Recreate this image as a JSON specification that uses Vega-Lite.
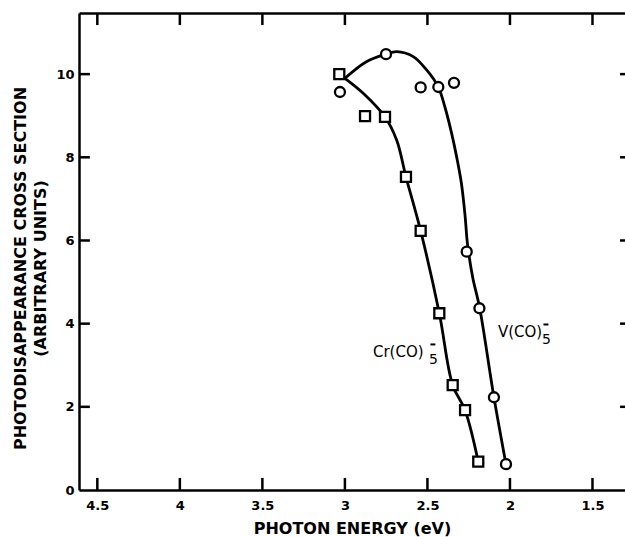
{
  "$schema": "https://vega.github.io/schema/vega-lite/v6.json",
  "autosize": "none",
  "width": 546,
  "height": 477,
  "padding": {"left": 79, "top": 13, "right": 0, "bottom": 47},
  "background": "white",
  "config": {
    "view": {"stroke": null},
    "axis": {
      "grid": false,
      "domainColor": "black",
      "domainWidth": 2.5,
      "tickColor": "black",
      "tickWidth": 2.5,
      "labelColor": "black",
      "titleColor": "black",
      "labelFont": "DejaVu Sans",
      "titleFont": "DejaVu Sans",
      "labelFontWeight": "bold",
      "titleFontWeight": "bold",
      "labelFontSize": 13,
      "titleFontSize": 16,
      "labelFlush": false,
      "labelOverlap": false,
      "labelBound": false
    }
  },
  "datasets": {
    "curves": [
      {"series": "V", "e": 3.0, "v": 9.9},
      {"series": "V", "e": 2.87, "v": 10.3},
      {"series": "V", "e": 2.751, "v": 10.48},
      {"series": "V", "e": 2.686, "v": 10.54},
      {"series": "V", "e": 2.586, "v": 10.42},
      {"series": "V", "e": 2.505, "v": 10.1},
      {"series": "V", "e": 2.434, "v": 9.69},
      {"series": "V", "e": 2.394, "v": 9.21},
      {"series": "V", "e": 2.353, "v": 8.57},
      {"series": "V", "e": 2.323, "v": 8.01},
      {"series": "V", "e": 2.294, "v": 7.37},
      {"series": "V", "e": 2.272, "v": 6.6},
      {"series": "V", "e": 2.257, "v": 5.9},
      {"series": "V", "e": 2.225, "v": 5.1},
      {"series": "V", "e": 2.184, "v": 4.39},
      {"series": "V", "e": 2.097, "v": 2.23},
      {"series": "V", "e": 2.024, "v": 0.62},
      {"series": "Cr", "e": 3.0, "v": 9.9},
      {"series": "Cr", "e": 2.889, "v": 9.54},
      {"series": "Cr", "e": 2.757, "v": 8.97},
      {"series": "Cr", "e": 2.686, "v": 8.41},
      {"series": "Cr", "e": 2.63, "v": 7.53},
      {"series": "Cr", "e": 2.541, "v": 6.23},
      {"series": "Cr", "e": 2.428, "v": 4.25},
      {"series": "Cr", "e": 2.347, "v": 2.52},
      {"series": "Cr", "e": 2.272, "v": 1.92},
      {"series": "Cr", "e": 2.192, "v": 0.68}
    ],
    "points": [
      {"series": "Cr", "e": 3.034, "v": 10.0},
      {"series": "Cr", "e": 2.878, "v": 8.99},
      {"series": "Cr", "e": 2.757, "v": 8.97},
      {"series": "Cr", "e": 2.63, "v": 7.53},
      {"series": "Cr", "e": 2.541, "v": 6.23},
      {"series": "Cr", "e": 2.428, "v": 4.25},
      {"series": "Cr", "e": 2.347, "v": 2.52},
      {"series": "Cr", "e": 2.272, "v": 1.92},
      {"series": "Cr", "e": 2.192, "v": 0.68},
      {"series": "V", "e": 3.03, "v": 9.57},
      {"series": "V", "e": 2.751, "v": 10.48},
      {"series": "V", "e": 2.541, "v": 9.68},
      {"series": "V", "e": 2.434, "v": 9.69},
      {"series": "V", "e": 2.339, "v": 9.79},
      {"series": "V", "e": 2.262, "v": 5.73},
      {"series": "V", "e": 2.185, "v": 4.37},
      {"series": "V", "e": 2.097, "v": 2.23},
      {"series": "V", "e": 2.024, "v": 0.62}
    ],
    "labels": [
      {"t": "Cr(CO)", "e": 2.83, "v": 3.32, "size": 15},
      {"t": "5", "e": 2.49, "v": 3.12, "size": 14},
      {"t": "V(CO)", "e": 2.073, "v": 3.8, "size": 15},
      {"t": "5", "e": 1.806, "v": 3.6, "size": 14}
    ],
    "bars": [
      {"e": 2.482, "e2": 2.452, "v": 3.5},
      {"e": 1.797, "e2": 1.767, "v": 3.98}
    ],
    "xt": [
      {"e": 4.5, "a": 0, "b": 0.29}, {"e": 4, "a": 0, "b": 0.29}, {"e": 3.5, "a": 0, "b": 0.29}, {"e": 3, "a": 0, "b": 0.29}, {"e": 2.5, "a": 0, "b": 0.29}, {"e": 2, "a": 0, "b": 0.29}, {"e": 1.5, "a": 0, "b": 0.29},
      {"e": 4.5, "a": 11.47, "b": 11.18}, {"e": 4, "a": 11.47, "b": 11.18}, {"e": 3.5, "a": 11.47, "b": 11.18}, {"e": 3, "a": 11.47, "b": 11.18}, {"e": 2.5, "a": 11.47, "b": 11.18}, {"e": 2, "a": 11.47, "b": 11.18}, {"e": 1.5, "a": 11.47, "b": 11.18}
    ],
    "yt": [
      {"v": 2, "a": 4.611, "b": 4.545}, {"v": 4, "a": 4.611, "b": 4.545}, {"v": 6, "a": 4.611, "b": 4.545}, {"v": 8, "a": 4.611, "b": 4.545}, {"v": 10, "a": 4.611, "b": 4.545},
      {"v": 2, "a": 1.303, "b": 1.333}, {"v": 4, "a": 1.303, "b": 1.333}, {"v": 6, "a": 1.303, "b": 1.333}, {"v": 8, "a": 1.303, "b": 1.333}, {"v": 10, "a": 1.303, "b": 1.333}
    ]
  },
  "layer": [
    {
      "data": {"name": "xt"},
      "mark": {"type": "rule", "color": "black", "strokeWidth": 2.5},
      "encoding": {
        "x": {
          "field": "e", "type": "quantitative",
          "scale": {"domain": [1.303, 4.611], "reverse": true, "nice": false, "zero": false},
          "axis": {
            "orient": "bottom",
            "values": [4.5, 4, 3.5, 3, 2.5, 2, 1.5],
            "labelExpr": "'' + datum.value",
            "ticks": false,
            "labelPadding": 9,
            "title": "PHOTON ENERGY (eV)",
            "titleBaseline": "middle",
            "titleY": 38
          }
        },
        "y": {
          "field": "a", "type": "quantitative",
          "scale": {"domain": [0, 11.47], "nice": false},
          "axis": {
            "orient": "left",
            "values": [0, 2, 4, 6, 8, 10],
            "labelExpr": "'' + datum.value",
            "ticks": false,
            "labelPadding": 5,
            "title": ["PHOTODISAPPEARANCE CROSS SECTION", "(ARBITRARY UNITS)"],
            "titleAngle": -90,
            "titleBaseline": "middle",
            "titleAlign": "center",
            "titleLineHeight": 20,
            "titleX": -59,
            "titleY": 255
          }
        },
        "y2": {"field": "b"}
      }
    },
    {
      "data": {"name": "yt"},
      "mark": {"type": "rule", "color": "black", "strokeWidth": 2.5},
      "encoding": {
        "y": {"field": "v", "type": "quantitative", "axis": null},
        "x": {"field": "a", "type": "quantitative", "axis": null},
        "x2": {"field": "b"}
      }
    },
    {
      "data": {"name": "curves"},
      "mark": {"type": "line", "color": "black", "strokeWidth": 2.8, "interpolate": "catmull-rom"},
      "encoding": {
        "x": {"field": "e", "type": "quantitative", "axis": null},
        "y": {"field": "v", "type": "quantitative", "axis": null},
        "detail": {"field": "series"}
      }
    },
    {
      "data": {"name": "points"},
      "mark": {"type": "point", "filled": true, "fill": "white", "stroke": "black", "strokeWidth": 2.3, "size": 100, "opacity": 1},
      "encoding": {
        "x": {"field": "e", "type": "quantitative", "axis": null},
        "y": {"field": "v", "type": "quantitative", "axis": null},
        "shape": {
          "field": "series", "type": "nominal",
          "scale": {"domain": ["Cr", "V"], "range": ["square", "circle"]},
          "legend": null
        }
      }
    },
    {
      "data": {"name": "labels"},
      "mark": {"type": "text", "align": "left", "baseline": "middle", "font": "DejaVu Sans", "color": "black"},
      "encoding": {
        "x": {"field": "e", "type": "quantitative", "axis": null},
        "y": {"field": "v", "type": "quantitative", "axis": null},
        "text": {"field": "t"},
        "size": {"field": "size", "type": "quantitative", "scale": null}
      }
    },
    {
      "data": {"name": "bars"},
      "mark": {"type": "rule", "color": "black", "strokeWidth": 2},
      "encoding": {
        "x": {
          "field": "e", "type": "quantitative",
          "axis": {
            "orient": "top",
            "values": [4.5],
            "labels": false,
            "ticks": false,
            "domain": true,
            "title": null
          }
        },
        "x2": {"field": "e2"},
        "y": {"field": "v", "type": "quantitative", "axis": null}
      }
    }
  ],
  "resolve": {"axis": {"x": "independent", "y": "independent"}}
}
